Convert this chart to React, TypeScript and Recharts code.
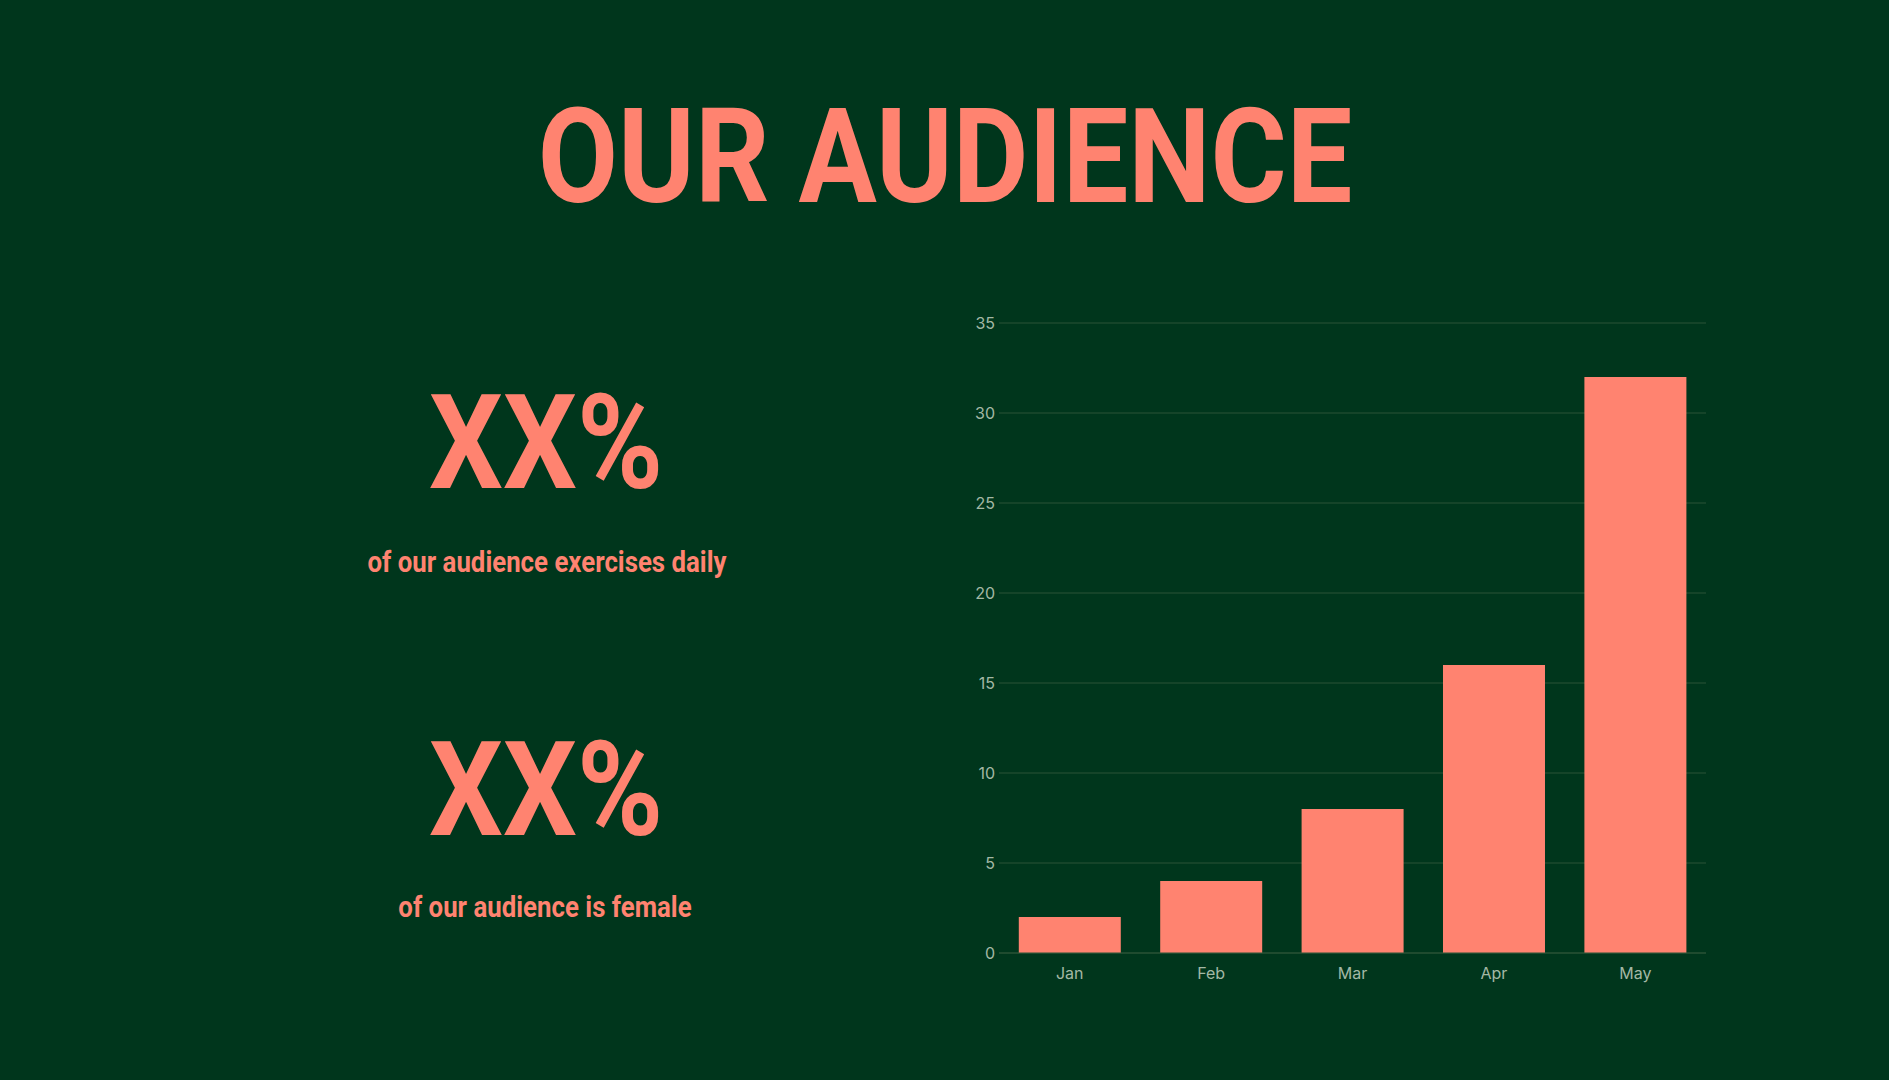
import React from 'react';
import { BarChart, Bar, XAxis, YAxis, CartesianGrid } from 'recharts';

const months = ['Jan', 'Feb', 'Mar', 'Apr', 'May'];
const audience = [2, 4, 8, 16, 32];
const yTicks = [0, 5, 10, 15, 20, 25, 30, 35];

const BG = '#00361C';
const SALMON = '#FF8370';
const GRID = '#2A5236';
const TICK = '#A3B8A5';

const data = months.map((m, i) => ({ month: m, value: audience[i] }));

// condensed bold text, centred on cx, top of line box at top
function Condensed({ text, cx, top, size }: { text: string; cx: number; top: number; size: number }) {
  return (
    <div
      style={{
        position: 'absolute',
        left: cx,
        top,
        transform: 'translateX(-50%) scaleX(0.89)',
        fontFamily: 'Roboto, sans-serif',
        fontWeight: 700,
        fontSize: size,
        lineHeight: 1,
        whiteSpace: 'nowrap',
        color: SALMON,
      }}
    >
      {text}
    </div>
  );
}

export default function App() {
  return (
    <div
      style={{
        position: 'fixed',
        left: 0,
        top: 0,
        width: 1889,
        height: 1080,
        background: BG,
        overflow: 'hidden',
      }}
    >
      <Condensed text="OUR AUDIENCE" cx={945} top={92} size={131} />
      <Condensed text="XX%" cx={546} top={378} size={131} />
      <Condensed text="of our audience exercises daily" cx={547} top={548} size={29} />
      <Condensed text="XX%" cx={546} top={725} size={131} />
      <Condensed text="of our audience is female" cx={545} top={893} size={29} />

      <div style={{ position: 'absolute', left: 940, top: 300 }}>
        <BarChart
          width={800}
          height={720}
          data={data}
          margin={{ top: 23, right: 34, left: 0, bottom: 27 }}
          barCategoryGap="14%"
        >
          <CartesianGrid vertical={false} stroke={GRID} strokeWidth={1} />
          <XAxis
            dataKey="month"
            axisLine={{ stroke: GRID }}
            tickLine={false}
            tickSize={6}
            tickMargin={9}
            height={40}
            tick={{ fill: TICK, fontSize: 16, fontFamily: 'Inter, sans-serif' }}
          />
          <YAxis
            domain={[0, 35]}
            ticks={yTicks}
            axisLine={false}
            tickLine={false}
            tickSize={2}
            tickMargin={2}
            width={59}
            tick={{ fill: TICK, fontSize: 16, fontFamily: 'Inter, sans-serif' }}
          />
          <Bar dataKey="value" fill={SALMON} isAnimationActive={false} />
        </BarChart>
      </div>
    </div>
  );
}
